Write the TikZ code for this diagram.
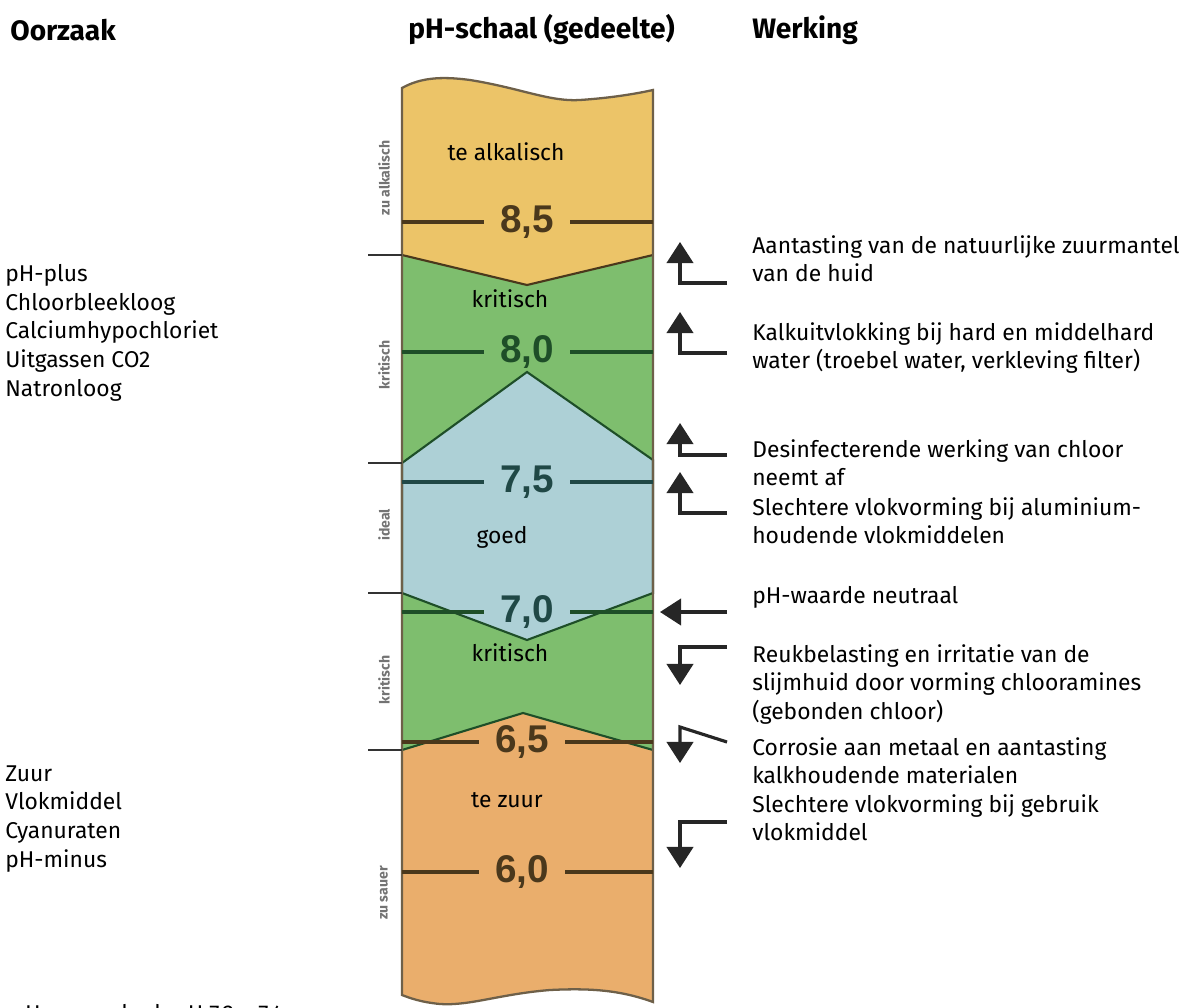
\documentclass[tikz,border=0pt]{standalone}
\usepackage{fontspec}
\setmainfont{Fira Sans}
\newfontfamily\numfont{Liberation Sans}
\usepackage{tikz}
\usetikzlibrary{arrows.meta,positioning}
\definecolor{alkYellow}{RGB}{236,196,104}
\definecolor{critGreen}{RGB}{126,190,110}
\definecolor{goodBlue}{RGB}{173,208,214}
\definecolor{acidOrange}{RGB}{234,174,108}
\definecolor{edgeBrown}{RGB}{74,56,28}
\definecolor{edgeGreen}{RGB}{30,78,40}
\definecolor{edgeTeal}{RGB}{32,72,70}
\tikzstyle{txtNode} = [inner sep=0pt, align=left, anchor=north west, font=\fontsize{13}{16.3}\selectfont]
\tikzstyle{headNode} = [inner sep=0pt, anchor=west, font=\bfseries\fontsize{16}{19}\selectfont]
\tikzstyle{zoneNode} = [inner sep=0pt, font=\fontsize{13}{15}\selectfont]
\tikzstyle{sideNode} = [inner sep=0pt, rotate=90, text=black!55, font=\bfseries\fontsize{8}{9}\selectfont]
\tikzstyle{valNode} = [inner xsep=9pt, inner ysep=0pt, font=\numfont\bfseries\fontsize{22}{24}\selectfont]
\tikzstyle{levelLine} = [line width=2.2pt]
\tikzstyle{zoneEdge} = [line width=1.2pt]
\tikzstyle{colEdge} = [line width=1.3pt, draw=edgeBrown!80]
\tikzstyle{tickLine} = [line width=1pt, draw=black!80]
\tikzstyle{arrowK} = [line width=1.8pt, draw=black!85, -{Triangle[width=15pt,length=12pt]}]

\begin{document}
\begin{tikzpicture}[x=0.02cm, y=-0.02cm]
    \useasboundingbox (0,0) rectangle (1196,1007);

    \node (hCause) [headNode] at (10,30) {Oorzaak};
    \node (hScale) [headNode] at (408,30) {pH-schaal (gedeelte)};
    \node (hEffect) [headNode] at (752,30) {Werking};

    % zones of the scale
    \fill[alkYellow] (402,88) .. controls (420,78) and (440,76) .. (470,80) .. controls (520,88) and (550,102) .. (580,100) .. controls (610,98) and (635,94) .. (653,90) -- (653,255) -- (527,285) -- (402,255) -- cycle;
    \fill[critGreen] (402,255) -- (527,285) -- (653,255) -- (653,750) -- (523,713) -- (402,750) -- cycle;
    \fill[goodBlue] (527,372) -- (653,460) -- (653,593) -- (527,640) -- (402,593) -- (402,463) -- cycle;
    \fill[acidOrange] (402,750) -- (523,713) -- (653,750) -- (653,1002) .. controls (620,990) and (590,988) .. (550,990) .. controls (500,994) and (470,1006) .. (440,1004) .. controls (420,1002) and (410,998) .. (402,995) -- cycle;

    \draw[zoneEdge, edgeBrown] (402,255) -- (527,285) -- (653,255);
    \draw[zoneEdge, edgeGreen] (527,372) -- (653,460) -- (653,593) -- (527,640) -- (402,593) -- (402,463) -- cycle;
    \draw[zoneEdge, edgeGreen] (402,750) -- (523,713) -- (653,750);
    \draw[colEdge] (402,88) .. controls (420,78) and (440,76) .. (470,80) .. controls (520,88) and (550,102) .. (580,100) .. controls (610,98) and (635,94) .. (653,90) -- (653,1002) .. controls (620,990) and (590,988) .. (550,990) .. controls (500,994) and (470,1006) .. (440,1004) .. controls (420,1002) and (410,998) .. (402,995) -- cycle;

    \node (v85) [valNode, text=edgeBrown] at (527,222) {8,5};
    \node (v80) [valNode, text=edgeGreen] at (527,352) {8,0};
    \node (v75) [valNode, text=edgeTeal] at (527,482) {7,5};
    \node (v70) [valNode, text=edgeTeal] at (527,612) {7,0};
    \node (v65) [valNode, text=edgeBrown] at (522,742) {6,5};
    \node (v60) [valNode, text=edgeBrown] at (522,872) {6,0};
    \draw[levelLine, edgeBrown] (402,222) -- (v85); \draw[levelLine, edgeBrown] (v85) -- (653,222);
    \draw[levelLine, edgeGreen] (402,352) -- (v80); \draw[levelLine, edgeGreen] (v80) -- (653,352);
    \draw[levelLine, edgeTeal] (402,482) -- (v75); \draw[levelLine, edgeTeal] (v75) -- (653,482);
    \draw[levelLine, edgeGreen] (402,612) -- (v70); \draw[levelLine, edgeGreen] (v70) -- (653,612);
    \draw[levelLine, edgeBrown] (402,742) -- (v65); \draw[levelLine, edgeBrown] (v65) -- (653,742);
    \draw[levelLine, edgeBrown] (402,872) -- (v60); \draw[levelLine, edgeBrown] (v60) -- (653,872);

    \draw[tickLine] (368,255) -- (402,255);
    \draw[tickLine] (368,463) -- (402,463);
    \draw[tickLine] (368,593) -- (402,593);
    \draw[tickLine] (368,750) -- (402,750);

    \node (sAlk) [sideNode] at (384,178) {zu alkalisch};
    \node (sCrit1) [sideNode] at (384,365) {kritisch};
    \node (sIdeal) [sideNode] at (384,525) {ideal};
    \node (sCrit2) [sideNode] at (384,680) {kritisch};
    \node (sAcid) [sideNode] at (384,893) {zu sauer};

    \node (zAlk) [zoneNode] at (506,152) {te alkalisch};
    \node (zCrit1) [zoneNode] at (510,299) {kritisch};
    \node (zGood) [zoneNode] at (502,537) {goed};
    \node (zCrit2) [zoneNode] at (510,653) {kritisch};
    \node (zAcid) [zoneNode] at (507,800) {te zuur};

    \node (cPlus) [txtNode] at (5,264) {pH-plus\\Chloorbleekloog\\Calciumhypochloriet\\Uitgassen CO2\\Natronloog};
    \node (cMinus) [txtNode] at (5,765) {Zuur\\Vlokmiddel\\Cyanuraten\\pH-minus};

    \node (w1) [txtNode] at (752,235) {Aantasting van de natuurlijke zuurmantel\\van de huid};
    \node (w2) [txtNode] at (752,322) {Kalkuitvlokking bij hard en middelhard\\water (troebel water, verkleving filter)};
    \node (w3) [txtNode] at (752,439) {Desinfecterende werking van chloor\\neemt af};
    \node (w4) [txtNode] at (752,497) {Slechtere vlokvorming bij aluminium-\\houdende vlokmiddelen};
    \node (w5) [txtNode] at (752,586) {pH-waarde neutraal};
    \node (w6) [txtNode] at (752,644) {Reukbelasting en irritatie van de\\slijmhuid door vorming chlooramines\\(gebonden chloor)};
    \node (w7) [txtNode] at (752,737) {Corrosie aan metaal en aantasting\\kalkhoudende materialen};
    \node (w8) [txtNode] at (752,794) {Slechtere vlokvorming bij gebruik\\vlokmiddel};

    \node (note) [txtNode, anchor=west] at (25,1015) {Uw zwembad: pH 7,2 -- 7,4};

    \coordinate (s1) at (727,283); \coordinate (t1) at (680,242);
    \coordinate (s2) at (727,353); \coordinate (t2) at (680,312);
    \coordinate (s3) at (727,455); \coordinate (t3) at (680,423);
    \coordinate (s4) at (727,513); \coordinate (t4) at (680,472);
    \coordinate (s5) at (727,612); \coordinate (t5) at (660,612);
    \coordinate (s6) at (727,647); \coordinate (t6) at (680,685);
    \coordinate (s7) at (727,742); \coordinate (k7) at (680,727); \coordinate (t7) at (680,763);
    \coordinate (s8) at (727,822); \coordinate (t8) at (680,868);

    \draw [arrowK] (s1) -| (t1);
    \draw [arrowK] (s2) -| (t2);
    \draw [arrowK] (s3) -| (t3);
    \draw [arrowK] (s4) -| (t4);
    \draw [arrowK] (s5) -- (t5);
    \draw [arrowK] (s6) -| (t6);
    \draw [arrowK] (s7) -- (k7) -- (t7);
    \draw [arrowK] (s8) -| (t8);
\end{tikzpicture}
\end{document}
